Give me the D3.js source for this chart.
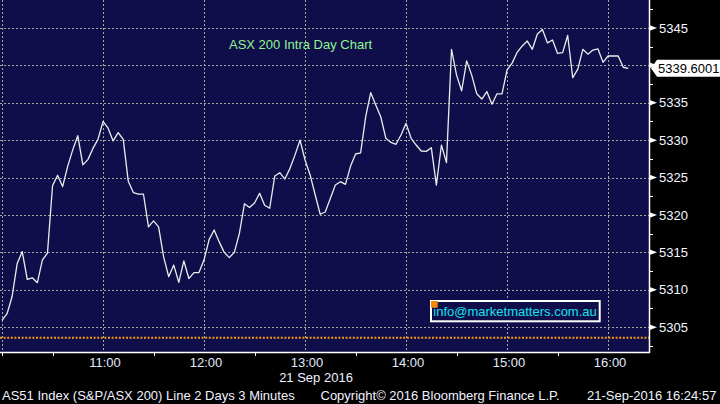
<!DOCTYPE html>
<html>
<head>
<meta charset="utf-8">
<script src="https://cdn.jsdelivr.net/npm/d3@7"></script>
<style>
  html, body { margin: 0; padding: 0; background: #000; }
  svg { display: block; font-family: "Liberation Sans", Arial, sans-serif; }
</style>
</head>
<body>
<svg id="chart" width="720" height="404"></svg>
<script>
// ---- Data (ASX 200, 21 Sep 2016, 3-minute bars starting 10:00) ----
const startTime = "2016-09-21T10:00:00";
const stepMinutes = 3;
const values = [
  5305.9, 5306.8, 5309.1, 5313.5, 5315.1, 5311.4, 5311.6, 5310.95, 5314.0, 5314.9,
  5323.9, 5325.3, 5323.8, 5326.5, 5328.7, 5330.6, 5326.7, 5327.4, 5328.9, 5330.1,
  5332.5, 5331.6, 5329.9, 5331.0, 5330.1, 5324.5, 5323.0, 5322.8, 5322.8, 5318.4,
  5319.2, 5318.4, 5314.4, 5311.75, 5313.3, 5311.0, 5313.85, 5311.5, 5312.3, 5312.3,
  5314.0, 5316.7, 5318.0, 5316.4, 5315.0, 5314.3, 5315.0, 5317.55, 5321.5, 5321.0,
  5321.6, 5322.9, 5321.3, 5320.9, 5325.2, 5325.65, 5324.8, 5326.2, 5328.0, 5330.0,
  5327.35, 5325.35, 5322.7, 5320.1, 5320.4, 5322.2, 5324.0, 5324.45, 5324.1, 5326.5,
  5328.15, 5328.3, 5333.1, 5336.35, 5334.7, 5333.1, 5330.25, 5329.7, 5329.45, 5330.7,
  5332.25, 5330.25, 5329.35, 5328.55, 5328.5, 5329.0, 5324.0, 5329.35, 5327.0, 5342.15,
  5338.7, 5336.6, 5340.6, 5338.7, 5336.2, 5335.5, 5336.5, 5334.8, 5336.2, 5336.2,
  5339.4, 5340.3, 5341.75, 5342.6, 5343.25, 5342.15, 5344.2, 5344.8, 5343.0, 5343.4,
  5341.6, 5341.7, 5344.0, 5338.35, 5339.5, 5342.15, 5341.5, 5342.05, 5342.2, 5340.4,
  5341.25, 5341.25, 5341.25, 5339.75, 5339.6001
];
const lastValueLabel = "5339.6001";
const refLevel = 5303.6;               // orange dotted level
const yTicks = [5305, 5310, 5315, 5320, 5325, 5330, 5335, 5340, 5345];
const yMinorTicks = [5302.5, 5307.5, 5312.5, 5317.5, 5322.5, 5327.5, 5332.5, 5337.5, 5342.5, 5347.5];
const xTickLabels = ["11:00", "12:00", "13:00", "14:00", "15:00", "16:00"];
const xGridTimes = ["10:00", "11:00", "12:00", "13:00", "14:00", "15:00", "16:00"];
const xMinorTimes = ["10:00", "10:30", "11:30", "12:30", "13:30", "14:30", "15:30"];
const dateLabel = "21 Sep 2016";
const titleText = "ASX 200 Intra Day Chart";
const infoText = "info@marketmatters.com.au";
const footerLeft = "AS51 Index (S&P/ASX 200) Line 2 Days 3 Minutes";
const footerMid = "Copyright\u00A9 2016 Bloomberg Finance L.P.";
const footerRight = "21-Sep-2016 16:24:57";

// ---- Setup ----
const svg = d3.select("#chart");
const plotW = 649, plotH = 352;
const parseT = d3.timeParse("%Y-%m-%dT%H:%M:%S");
const t0 = parseT(startTime);
const dayT = s => parseT("2016-09-21T" + s + ":00");
const data = values.map((v, i) => ({ t: d3.timeMinute.offset(t0, i * stepMinutes), v }));

const x = d3.scaleTime()
  .domain([parseT("2016-09-21T09:58:48"), parseT("2016-09-21T16:24:18")])
  .range([0, plotW]);
const y = d3.scaleLinear().domain([5301.68, 5348.74]).range([plotH, 0]);

// background
svg.append("rect").attr("width", 720).attr("height", 404).attr("fill", "#000");
svg.append("rect").attr("x", 0).attr("y", 0).attr("width", plotW).attr("height", plotH)
  .attr("fill", "#100e4a");

// grid
const grid = svg.append("g").attr("stroke", "#a9a89c").attr("stroke-width", 1)
  .attr("stroke-dasharray", "2,2").attr("shape-rendering", "crispEdges");
grid.selectAll("line.h").data(yTicks).join("line")
  .attr("x1", 0).attr("x2", plotW)
  .attr("y1", d => Math.round(y(d)) + 0.5).attr("y2", d => Math.round(y(d)) + 0.5);
grid.selectAll("line.v").data(xGridTimes).join("line")
  .attr("y1", 0).attr("y2", plotH)
  .attr("x1", d => Math.round(x(dayT(d))) + 0.5).attr("x2", d => Math.round(x(dayT(d))) + 0.5);

// orange reference level
svg.append("line")
  .attr("x1", 0).attr("x2", plotW)
  .attr("y1", y(refLevel)).attr("y2", y(refLevel))
  .attr("stroke", "#f49b12").attr("stroke-width", 2).attr("stroke-dasharray", "2,1.6");

// title
svg.append("text").attr("x", 229).attr("y", 48.5)
  .attr("fill", "#8ff58c").attr("font-size", 13).text(titleText);

// price line
const line = d3.line().x(d => x(d.t)).y(d => y(d.v));
svg.append("path").datum(data).attr("d", line)
  .attr("fill", "none").attr("stroke", "#ececec").attr("stroke-width", 1.3)
  .attr("stroke-linejoin", "round");

// info box
svg.append("rect").attr("x", 431).attr("y", 301).attr("width", 168.7).attr("height", 20.3)
  .attr("fill", "#100e4a").attr("stroke", "#fff").attr("stroke-width", 2);
svg.append("text").attr("x", 433.3).attr("y", 316.3)
  .attr("fill", "#18e2ee").attr("font-size", 13).text(infoText);
svg.append("rect").attr("x", 431).attr("y", 301).attr("width", 6.7).attr("height", 6.7)
  .attr("fill", "#f08c00");

// axes lines
svg.append("line").attr("x1", plotW + 0.5).attr("x2", plotW + 0.5).attr("y1", 0).attr("y2", plotH + 1)
  .attr("stroke", "#fff").attr("stroke-width", 1.5);
svg.append("line").attr("x1", 0).attr("x2", plotW + 1).attr("y1", plotH + 0.5).attr("y2", plotH + 0.5)
  .attr("stroke", "#fff").attr("stroke-width", 1.5);

// last value position (tag hides the tick label it overlaps)
const lv = y(values[values.length - 1]);
const visibleYLabels = yTicks.filter(d => Math.abs(y(d) - lv) > 13);

// y axis ticks
const yAx = svg.append("g");
yAx.selectAll("path.maj").data(yTicks).join("path")
  .attr("d", d => { const yy = y(d); return `M${plotW},${yy - 3}L${plotW + 8},${yy}L${plotW},${yy + 3}Z`; })
  .attr("fill", "#fff");
yAx.selectAll("line.min").data(yMinorTicks).join("line")
  .attr("x1", plotW).attr("x2", plotW + 4)
  .attr("y1", d => Math.round(y(d)) + 0.5).attr("y2", d => Math.round(y(d)) + 0.5)
  .attr("stroke", "#fff").attr("stroke-width", 1);
yAx.selectAll("text").data(visibleYLabels).join("text")
  .attr("x", 659).attr("y", d => y(d) + 4.7)
  .attr("fill", "#f4f6ff").attr("font-size", 13)
  .text(d => d3.format("d")(d));

// last value tag
svg.append("path")
  .attr("d", `M${plotW + 2},${lv}L${plotW + 8},${lv - 8.5}L720,${lv - 8.5}L720,${lv + 8.5}L${plotW + 8},${lv + 8.5}Z`)
  .attr("fill", "#fff");
svg.append("text").attr("x", 658).attr("y", lv + 4.7)
  .attr("fill", "#000").attr("font-size", 13).text(lastValueLabel);

// x axis ticks and labels
svg.append("g").selectAll("line").data(xMinorTimes).join("line")
  .attr("x1", d => Math.round(x(dayT(d))) + 0.5).attr("x2", d => Math.round(x(dayT(d))) + 0.5)
  .attr("y1", plotH).attr("y2", plotH + 4)
  .attr("stroke", "#fff").attr("stroke-width", 1);
svg.append("g").selectAll("text").data(xTickLabels).join("text")
  .attr("x", d => x(dayT(d)) + 2).attr("y", 366.7)
  .attr("text-anchor", "middle").attr("fill", "#e2eaff").attr("font-size", 13)
  .text(d => d);
svg.append("text").attr("x", 316).attr("y", 382.3).attr("text-anchor", "middle")
  .attr("fill", "#f0f2ff").attr("font-size", 13).text(dateLabel);

// footer
svg.append("text").attr("x", 2).attr("y", 399.5).attr("fill", "#f0f2ff").attr("font-size", 13).text(footerLeft);
svg.append("text").attr("x", 320.5).attr("y", 399.5).attr("fill", "#f0f2ff").attr("font-size", 13).text(footerMid);
svg.append("text").attr("x", 587).attr("y", 399.5).attr("fill", "#f0f2ff").attr("font-size", 13).text(footerRight);
</script>
</body>
</html>
